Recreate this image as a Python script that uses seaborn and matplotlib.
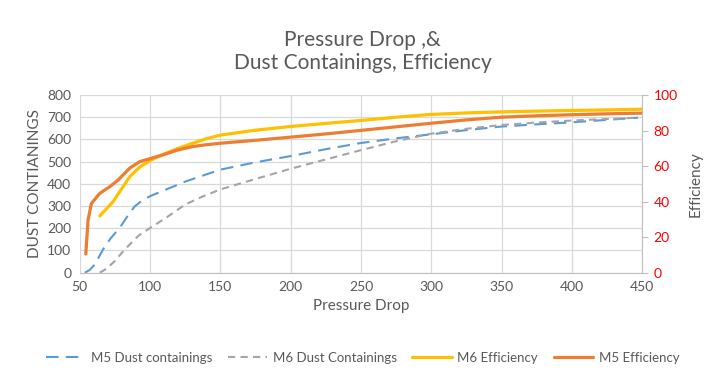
import pandas as pd
import seaborn as sns
import matplotlib.pyplot as plt

# values
m5_dust_x = [53.6, 57, 60.7, 66.6, 72, 78.4, 84, 89, 95, 100.9, 111.6, 125.8, 150, 175, 200,
             225, 248.9, 275, 300, 325, 350, 375, 400, 425, 447]
m5_dust_y = [0, 12, 37, 105, 155, 202, 255, 298, 328, 347, 375, 412, 464, 497, 525,
             556, 583, 605, 623, 642, 658, 668, 677, 688, 698]

m6_dust_x = [64.2, 69, 74.9, 80, 85.5, 92, 100.9, 112, 125, 137, 150, 175, 200,
             225, 248.9, 275, 300, 325, 350, 375, 400, 425, 447]
m6_dust_y = [0, 18, 52, 90, 127, 168, 205, 250, 307, 342, 375, 422, 468,
             510, 550, 592, 626, 648, 665, 676, 685, 692, 698]

m6_eff_x = [64.2, 73.7, 78.4, 85.5, 92.6, 100.9, 111.5, 120, 130.5, 140, 150.6, 175, 200.3,
            225, 248.9, 275, 300, 325, 350, 375, 400, 425, 450]
m6_eff_y = [31.9, 40, 45.6, 54, 59.4, 63.5, 67.3, 70, 72.9, 75.4, 77.5, 80.2, 82.3,
            84, 85.6, 87.5, 89.1, 89.9, 90.5, 90.9, 91.3, 91.6, 92]

m5_eff_x = [54.3, 55.9, 58.3, 64.2, 71.3, 77.2, 85.5, 92.6, 100.9, 111.5, 120, 130.5, 140,
            150.6, 175, 200.3, 225, 248.9, 275, 300, 325, 350, 375, 400, 425, 450]
m5_eff_y = [10.5, 29.6, 39, 44.6, 48.4, 52.1, 58.8, 62.5, 64.4, 66.9, 69.1, 71, 72,
            72.9, 74.5, 76.3, 78.1, 80, 82.1, 84.1, 86, 87.5, 88.3, 88.9, 89.4, 89.8]

x_ticks = [50, 100, 150, 200, 250, 300, 350, 400, 450]

sns.set_style("white")
plt.rcParams['font.family'] = ['Lato', 'DejaVu Sans']

fig = plt.figure(figsize=(7.25, 3.83), dpi=100)
ax = fig.add_axes([0.110, 0.288, 0.776, 0.464])
ax2 = ax.twinx()

grey_txt = '#595959'

sns.lineplot(x=m5_dust_x, y=m5_dust_y, ax=ax, color='#5B9BD5', linewidth=1.5,
             linestyle=(0, (6, 3.5)), label='M5 Dust containings')
sns.lineplot(x=m6_dust_x, y=m6_dust_y, ax=ax, color='#A5A5A5', linewidth=1.5,
             linestyle=(0, (3.5, 2.5)), label='M6 Dust Containings')
sns.lineplot(x=m6_eff_x, y=m6_eff_y, ax=ax2, color='#FFC000', linewidth=2.3,
             label='M6 Efficiency')
sns.lineplot(x=m5_eff_x, y=m5_eff_y, ax=ax2, color='#ED7D31', linewidth=2.3,
             label='M5 Efficiency')

ax.set_xlim(50, 450)
ax.set_ylim(0, 800)
ax2.set_ylim(0, 100)
ax.set_xticks(x_ticks)
ax.set_yticks(range(0, 801, 100))
ax2.set_yticks(range(0, 101, 20))

ax.grid(True, color='#D9D9D9', linewidth=0.9)
ax2.grid(False)
ax.set_axisbelow(True)

for a in (ax, ax2):
    for s in a.spines.values():
        s.set_visible(False)
ax2.spines['right'].set_visible(True)
ax2.spines['right'].set_color('#BFBFBF')
ax2.spines['bottom'].set_visible(True)
ax2.spines['bottom'].set_color('#BFBFBF')

ax.tick_params(axis='both', colors=grey_txt, labelsize=10, length=0, pad=6)
ax2.tick_params(axis='y', colors='#BFBFBF', labelcolor='#FF0000', labelsize=10,
                length=4, direction='out', pad=4)

ax.set_xlabel('Pressure Drop', fontsize=11, color=grey_txt, labelpad=4)
ax.set_ylabel('DUST CONTIANINGS', fontsize=11, color=grey_txt, labelpad=4)
ax2.set_ylabel('Efficiency', fontsize=11, color=grey_txt, labelpad=8)

fig.text(0.5, 0.895, 'Pressure Drop ,&', ha='center', va='center',
         fontsize=15, color=grey_txt)
fig.text(0.5, 0.836, 'Dust Containings, Efficiency', ha='center', va='center',
         fontsize=15, color=grey_txt)

h1, l1 = ax.get_legend_handles_labels()
h2, l2 = ax2.get_legend_handles_labels()
ax.get_legend().remove()
ax2.get_legend().remove()
fig.legend(h1 + h2, l1 + l2, loc='center', bbox_to_anchor=(0.5, 0.065), ncol=4,
           frameon=False, fontsize=9.5, labelcolor=grey_txt, handlelength=3,
           columnspacing=1.2, handletextpad=0.4)

fig.savefig('out.png', dpi=100)
